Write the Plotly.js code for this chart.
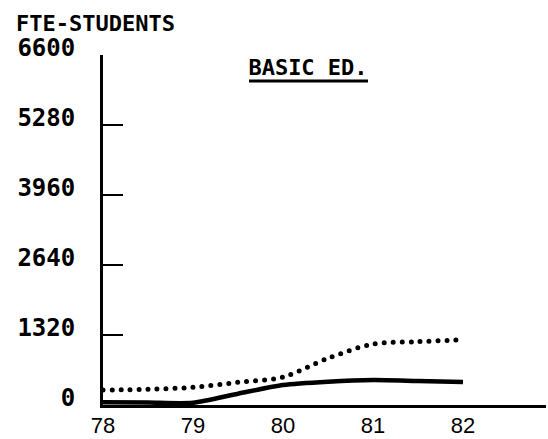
<!DOCTYPE html>
<html>
<head>
<meta charset="utf-8">
<script src="https://cdn.plot.ly/plotly-3.0.1.min.js"></script>
<style>
  html, body { margin: 0; padding: 0; background: #fff; }
  #chart { width: 548px; height: 439px; }
  .scatterlayer .trace:first-child .js-line { stroke-linecap: round; }
</style>
</head>
<body>
<div id="chart"></div>
<script>
// Fiscal years (x) and FTE-student readings from the picture
const years = [78, 78.5, 79, 79.5, 80, 80.5, 81, 81.5, 82];
const dottedSeries = [283, 296, 334, 428, 528, 880, 1150, 1194, 1230];
const solidSeries  = [50, 45, 42, 213, 377, 440, 471, 453, 434];
const yTicks = [0, 1320, 2640, 3960, 5280, 6600];
const xTicks = [78, 79, 80, 81, 82];
const xTickLabels = ['78', '79', '80', '81', '82'];
const chartTitle = 'BASIC ED.';
const yAxisLabel = 'FTE-STUDENTS';

const mono = 'DejaVu Sans Mono, Liberation Mono, monospace';

const traces = [
  {
    x: years, y: dottedSeries, type: 'scatter', mode: 'lines',
    line: { color: '#000', width: 5, dash: '0px,9px', shape: 'spline', smoothing: 0.9 },
    hoverinfo: 'skip', showlegend: false
  },
  {
    x: years, y: solidSeries, type: 'scatter', mode: 'lines',
    line: { color: '#000', width: 4.5, shape: 'spline', smoothing: 0.7 },
    hoverinfo: 'skip', showlegend: false
  }
];

const layout = {
  width: 548, height: 439,
  margin: { l: 103, r: 2, t: 55, b: 34, pad: 0 },
  paper_bgcolor: '#fff', plot_bgcolor: '#fff',
  showlegend: false,
  title: {
    text: chartTitle,
    font: { family: mono, size: 22, color: '#000', weight: 'bold' },
    xref: 'container', yref: 'container',
    x: 308 / 548, xanchor: 'center',
    y: 1 - 67 / 439, yanchor: 'middle'
  },
  xaxis: {
    range: [78, 78 + 443 / 90],
    showgrid: false, zeroline: false,
    showline: true, linecolor: '#000', linewidth: 3,
    ticks: '', tickmode: 'array', tickvals: xTicks, ticktext: xTickLabels,
    tickfont: { family: 'Liberation Sans, Arial, sans-serif', size: 22, color: '#000' },
    ticklabelstandoff: -1,
    fixedrange: true
  },
  yaxis: {
    range: [0, 6600],
    showgrid: false, zeroline: false,
    showline: true, linecolor: '#000', linewidth: 3,
    ticks: 'inside', ticklen: 20, tickwidth: 2.5, tickcolor: '#000',
    tickmode: 'array', tickvals: yTicks, ticktext: yTicks.map(String),
    tickfont: { family: mono, size: 24, color: '#000', weight: 'bold' },
    ticklabelstandoff: 20,
    ticklabelshift: -7,
    fixedrange: true
  },
  annotations: [
    {
      text: yAxisLabel, showarrow: false,
      xref: 'paper', yref: 'paper',
      x: (14 - 103) / 443, xanchor: 'left',
      y: (405 - 23) / 350, yanchor: 'middle',
      font: { family: mono, size: 22, color: '#000', weight: 'bold' }
    }
  ],
  shapes: [
    {
      type: 'line', xref: 'paper', yref: 'paper',
      x0: (249 - 103) / 443, x1: (368 - 103) / 443,
      y0: (405 - 81) / 350, y1: (405 - 81) / 350,
      line: { color: '#000', width: 3 }
    }
  ]
};

Plotly.newPlot('chart', traces, layout, { staticPlot: true, displayModeBar: false });
</script>
</body>
</html>
